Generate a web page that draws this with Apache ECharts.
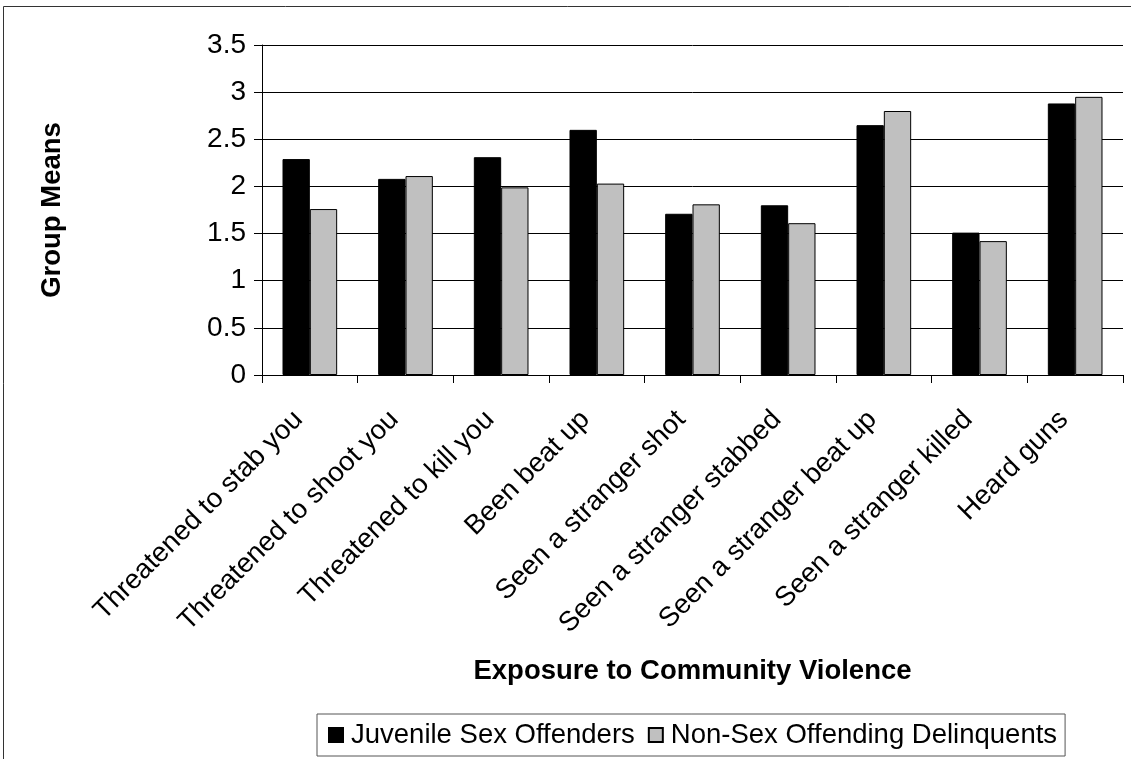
<!DOCTYPE html>
<html>
<head>
<meta charset="utf-8">
<title>Exposure to Community Violence</title>
<script src="https://cdn.jsdelivr.net/npm/echarts@6/dist/echarts.min.js"></script>
<style>
  html, body { margin: 0; padding: 0; background: #fff; }
  #chart { width: 1131px; height: 759px; }
</style>
</head>
<body>
<div id="chart"></div>
<script>
// Exposure items on the category axis
const categories = [
  'Threatened to stab you',
  'Threatened to shoot you',
  'Threatened to kill you',
  'Been beat up',
  'Seen a stranger shot',
  'Seen a stranger stabbed',
  'Seen a stranger beat up',
  'Seen a stranger killed',
  'Heard guns'
];

// Group means per item
const juvenileSexOffenders = [2.29, 2.08, 2.31, 2.60, 1.71, 1.80, 2.65, 1.51, 2.88];
const nonSexOffendingDelinquents = [1.76, 2.11, 1.99, 2.03, 1.81, 1.61, 2.80, 1.42, 2.95];

const seriesNames = ['Juvenile Sex Offenders', 'Non-Sex Offending Delinquents'];

// Value axis scale
const yMin = 0;
const yMax = 3.5;
const yStep = 0.5;

const FONT = '"Liberation Sans", Arial, Helvetica, sans-serif';

const chart = echarts.init(document.getElementById('chart'), null, { renderer: 'canvas' });

chart.setOption({
  backgroundColor: '#ffffff',
  animation: false,
  textStyle: { fontFamily: FONT, color: '#000' },
  graphic: [{
    type: 'rect',
    shape: { x: 3.5, y: 6.5, width: 1140, height: 770 },
    style: { fill: null, stroke: '#333', lineWidth: 1 },
    silent: true,
    z: -10
  }],
  legend: {
    data: seriesNames,
    left: 317,
    top: 714,
    orient: 'horizontal',
    icon: 'rect',
    itemWidth: 14,
    itemHeight: 14,
    itemGap: 13,
    padding: [7, 8, 7, 11],
    borderColor: '#555',
    borderWidth: 1,
    textStyle: { fontFamily: FONT, fontSize: 27.5, color: '#000', padding: [0, 0, 0, 3] }
  },
  grid: {
    left: 262,
    right: 8,
    top: 45,
    bottom: 384,
    containLabel: false
  },
  xAxis: {
    type: 'category',
    data: categories,
    name: 'Exposure to Community Violence',
    nameLocation: 'middle',
    nameGap: 282,
    nameTextStyle: { fontFamily: FONT, fontSize: 27.5, fontWeight: 'bold', color: '#000' },
    axisLine: { show: true, lineStyle: { color: '#000', width: 1 } },
    axisTick: { show: true, alignWithLabel: false, length: 8, inside: false, lineStyle: { color: '#000' } },
    axisLabel: {
      interval: 0,
      rotate: 45,
      margin: 29,
      fontFamily: FONT,
      fontSize: 27.5,
      color: '#000',
      padding: [0, 16, 0, 0]
    },
    splitLine: { show: false }
  },
  yAxis: {
    type: 'value',
    min: yMin,
    max: yMax,
    interval: yStep,
    name: 'Group Means',
    nameLocation: 'middle',
    nameGap: 196,
    nameTextStyle: { fontFamily: FONT, fontSize: 27.5, fontWeight: 'bold', color: '#000' },
    axisLine: { show: true, lineStyle: { color: '#000', width: 1 } },
    axisTick: { show: true, length: 8, inside: false, lineStyle: { color: '#000' } },
    axisLabel: { margin: 16, fontFamily: FONT, fontSize: 28, color: '#000' },
    splitLine: { show: true, lineStyle: { color: '#000', width: 1 } }
  },
  series: [
    {
      name: seriesNames[0],
      type: 'bar',
      data: juvenileSexOffenders,
      barGap: '0%',
      barCategoryGap: '42.86%',
      itemStyle: { color: '#000000', borderColor: '#000000', borderWidth: 1 }
    },
    {
      name: seriesNames[1],
      type: 'bar',
      data: nonSexOffendingDelinquents,
      barGap: '0%',
      barCategoryGap: '42.86%',
      itemStyle: { color: '#c0c0c0', borderColor: '#000000', borderWidth: 1 }
    }
  ]
});
</script>
</body>
</html>
